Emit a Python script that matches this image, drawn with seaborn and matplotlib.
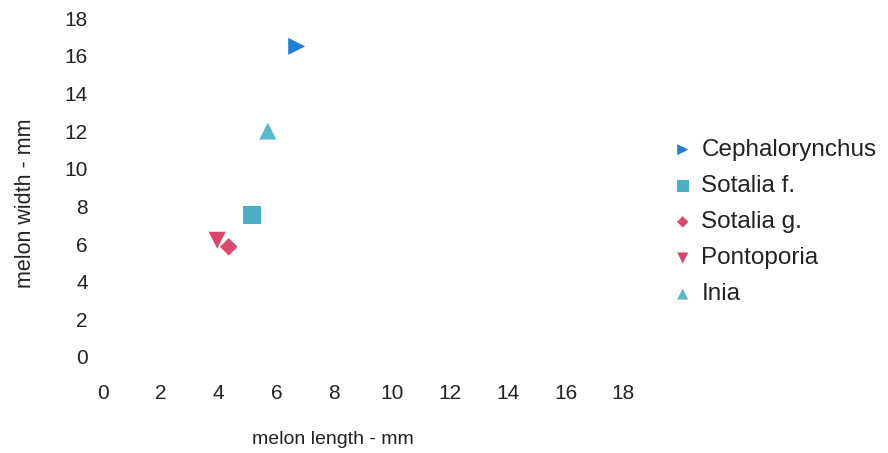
import matplotlib
matplotlib.use("Agg")
import matplotlib.pyplot as plt
import seaborn as sns
import pandas as pd

species = ["Cephalorynchus", "Sotalia f.", "Sotalia g.", "Pontoporia", "Inia"]
melon_length = [6.7, 5.15, 4.35, 3.95, 5.7]
melon_width = [16.5, 7.55, 5.85, 6.2, 12.0]
ticks = list(range(0, 19, 2))

colors = ["#1f7fd6", "#4bb0c6", "#d94a6e", "#d9446a", "#58b9cb"]
markers = [">", "s", "D", "v", "^"]
sizes = [150, 170, 80, 150, 150]

df = pd.DataFrame({"species": species, "length": melon_length, "width": melon_width})

sns.set_theme(style="white")
plt.rcParams["font.family"] = ["Liberation Sans", "DejaVu Sans"]

fig = plt.figure(figsize=(8.88, 4.53), dpi=100)
ax = fig.add_axes([0.116, 0.212, 0.586, 0.748])

for sp, c, m, s in zip(species, colors, markers, sizes):
    sub = df[df["species"] == sp]
    sns.scatterplot(data=sub, x="length", y="width", color=c, marker=m, s=s,
                    edgecolor="none", ax=ax, label=sp)

ax.set_xlim(0, 18)
ax.set_ylim(0, 18)
ax.set_xticks(ticks)
ax.set_yticks(ticks)
ax.set_xticklabels([str(t) for t in ticks])
ax.set_yticklabels([str(t) for t in ticks])
ax.tick_params(axis="both", labelsize=15, colors="#222222", length=0)
ax.tick_params(axis="x", pad=19.5)
ax.tick_params(axis="y", pad=11)
for sp_ in ax.spines.values():
    sp_.set_visible(False)
ax.grid(False)
ax.set_xlabel("melon length - mm", fontsize=14, color="#222222", va="center")
ax.set_ylabel("melon width - mm", fontsize=15.5, color="#222222", va="center")
ax.xaxis.set_label_coords(0.442, -0.245)
ax.yaxis.set_label_coords(-0.148, 0.454)

leg = ax.legend(loc="upper left", bbox_to_anchor=(673 / 888, 1 - 139 / 453),
                bbox_transform=fig.transFigure, frameon=False,
                fontsize=17.5, handlelength=0.8, handletextpad=0.37,
                labelspacing=0.58, borderpad=0, borderaxespad=0,
                markerscale=0.65)
for t in leg.get_texts():
    t.set_color("#222222")

fig.savefig("out.png", dpi=100)
